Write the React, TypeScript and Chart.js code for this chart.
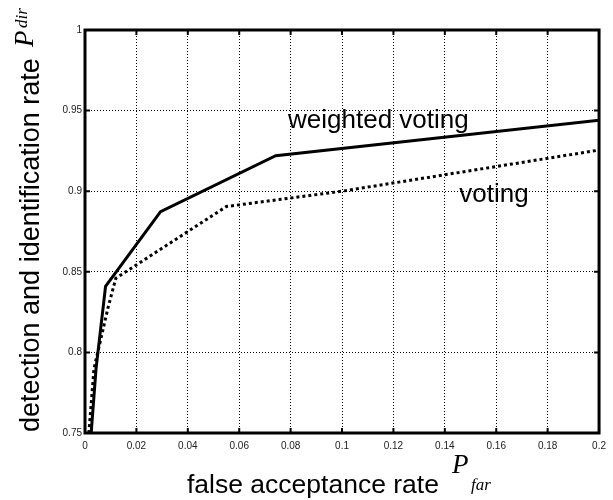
import React, { useEffect, useRef } from "react";
import { Chart, registerables } from "chart.js";

Chart.register(...registerables);

// ---- data ----
const weightedX = [0.0024, 0.0043, 0.008, 0.0294, 0.0742, 0.2];
const weightedY = [0.75, 0.79, 0.841, 0.8873, 0.922, 0.944];
const votingX = [0.0015, 0.0035, 0.009, 0.012, 0.055, 0.1, 0.2];
const votingY = [0.75, 0.79, 0.828, 0.846, 0.8905, 0.9, 0.9255];

const xMin = 0;
const xMax = 0.2;
const xStep = 0.02;
const yMin = 0.75;
const yMax = 1;
const yStep = 0.05;

const xTitle = "false acceptance rate";
const yTitle = "detection and identification rate";
const symbol = "P";
const xSub = "far";
const ySub = "dir";
const labelWeighted = "weighted voting";
const labelVoting = "voting";

const SANS = "'Liberation Sans', Arial, sans-serif";
const SERIF = "'Liberation Serif', 'Times New Roman', serif";

const fmt = (v: number) => String(Number(Number(v).toFixed(3)));

const framePlugin = {
  id: "frame",
  afterDraw(chart: any) {
    const ctx = chart.ctx;
    const { left, right, top, bottom } = chart.chartArea;
    const xs = chart.scales.x;
    const ys = chart.scales.y;
    ctx.save();
    // frame
    ctx.strokeStyle = "#000";
    ctx.lineWidth = 3;
    ctx.strokeRect(left, top, right - left, bottom - top);
    // inward ticks
    ctx.lineWidth = 2;
    const tl = 5;
    xs.ticks.forEach((t: any) => {
      const px = xs.getPixelForValue(t.value);
      ctx.beginPath();
      ctx.moveTo(px, bottom);
      ctx.lineTo(px, bottom - tl);
      ctx.moveTo(px, top);
      ctx.lineTo(px, top + tl);
      ctx.stroke();
    });
    ys.ticks.forEach((t: any) => {
      const py = ys.getPixelForValue(t.value);
      ctx.beginPath();
      ctx.moveTo(left, py);
      ctx.lineTo(left + tl, py);
      ctx.moveTo(right, py);
      ctx.lineTo(right - tl, py);
      ctx.stroke();
    });

    ctx.fillStyle = "#000";
    ctx.textBaseline = "alphabetic";
    ctx.textAlign = "left";

    // annotations
    ctx.font = `26px ${SANS}`;
    ctx.fillText(labelWeighted, xs.getPixelForValue(0.079), ys.getPixelForValue(0.939));
    ctx.fillText(labelVoting, xs.getPixelForValue(0.1456), ys.getPixelForValue(0.8935));

    // x title
    ctx.font = `26.5px ${SANS}`;
    ctx.fillText(xTitle, 187, 493);
    ctx.font = `italic 27px ${SERIF}`;
    ctx.fillText(symbol, 452, 473);
    ctx.font = `italic 17px ${SERIF}`;
    ctx.fillText(xSub, 471, 490);

    // y title
    ctx.translate(39, 432);
    ctx.rotate(-Math.PI / 2);
    ctx.font = `27px ${SANS}`;
    ctx.fillText(yTitle, 0, 0);
    ctx.font = `italic 27px ${SERIF}`;
    ctx.fillText(symbol, 385, -6);
    ctx.font = `italic 17px ${SERIF}`;
    ctx.fillText(ySub, 404, -12);
    ctx.restore();
  },
};

export default function App() {
  const ref = useRef<HTMLCanvasElement | null>(null);

  useEffect(() => {
    if (!ref.current) return;
    const chart = new Chart(ref.current, {
      type: "line",
      data: {
        datasets: [
          {
            label: labelWeighted,
            data: weightedX.map((x, i) => ({ x, y: weightedY[i] })),
            borderColor: "#000",
            borderWidth: 3,
            pointRadius: 0,
            tension: 0,
            fill: false,
          },
          {
            label: labelVoting,
            data: votingX.map((x, i) => ({ x, y: votingY[i] })),
            borderColor: "#000",
            borderWidth: 3,
            borderDash: [3, 3],
            pointRadius: 0,
            tension: 0,
            fill: false,
          },
        ],
      },
      options: {
        responsive: false,
        animation: false,
        layout: { padding: { left: 0, top: 30, right: 13, bottom: 0 } },
        plugins: { legend: { display: false }, tooltip: { enabled: false } },
        scales: {
          x: {
            type: "linear",
            min: xMin,
            max: xMax,
            ticks: {
              stepSize: xStep,
              color: "#222",
              font: { family: SANS, size: 10 },
              padding: 7,
              maxRotation: 0,
              autoSkip: false,
              callback: (v: any) => fmt(v),
            },
            grid: { color: "#000", lineWidth: 1, drawTicks: false },
            border: { display: false, dash: [1, 2] },
            afterFit: (s: any) => {
              s.height = 67;
            },
          },
          y: {
            type: "linear",
            min: yMin,
            max: yMax,
            ticks: {
              stepSize: yStep,
              color: "#222",
              font: { family: SANS, size: 10 },
              padding: 3,
              autoSkip: false,
              callback: (v: any) => fmt(v),
            },
            grid: { color: "#000", lineWidth: 1, drawTicks: false },
            border: { display: false, dash: [1, 2] },
            afterFit: (s: any) => {
              s.width = 85;
            },
          },
        },
      },
      plugins: [framePlugin],
    } as any);
    return () => chart.destroy();
  }, []);

  return (
    <div style={{ position: "absolute", left: 0, top: 0, width: 613, height: 500, background: "#fff" }}>
      <canvas ref={ref} width={613} height={500} />
    </div>
  );
}
